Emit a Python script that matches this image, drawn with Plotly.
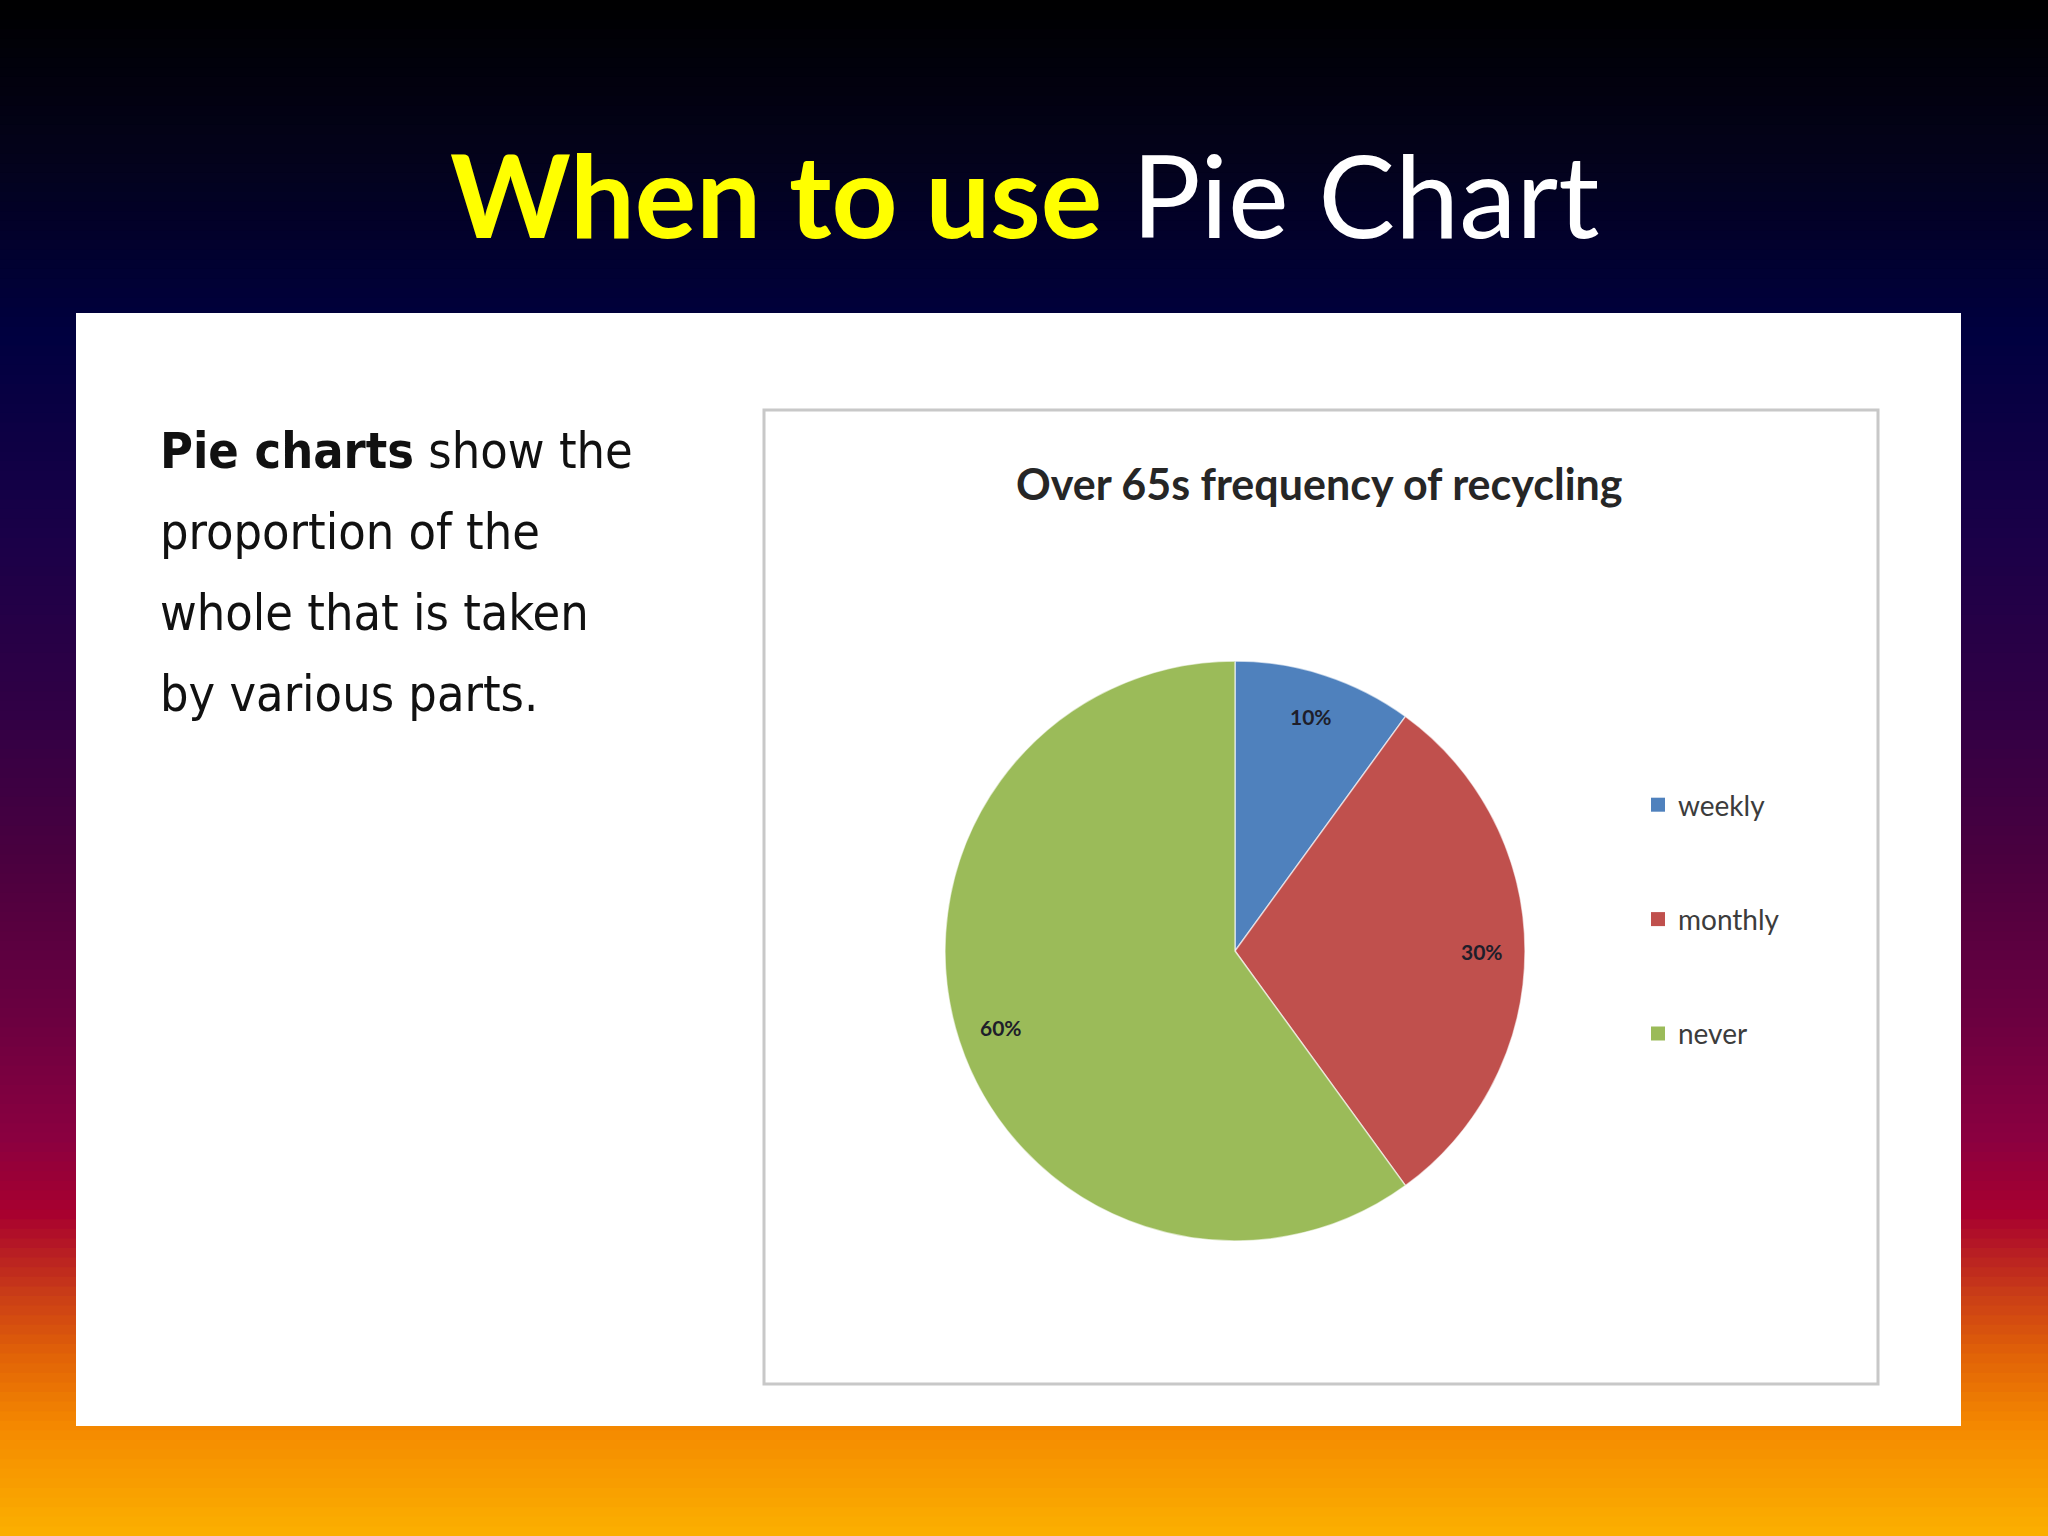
"""
スライド「When to use Pie Chart」の再現。
グラデーション背景・白パネル・説明文・円グラフを1枚の図に描く。
"""

import math
import plotly.graph_objects as go

# --- データ ---
categories = ["weekly", "monthly", "never"]
shares = [10, 30, 60]
slice_colors = ["#4F81BD", "#C0504D", "#9BBB59"]

slide_title_bold = "When to use"
slide_title_rest = "Pie Chart"
chart_title = "Over 65s frequency of recycling"
body_lines = [
    "<b>Pie charts</b> show the",
    "proportion of the",
    "whole that is taken",
    "by various parts.",
]

W, H = 2048, 1536


# --- ヘルパー関数 ---
def px_x(x):
    return x / W


def px_y(y):
    return 1 - y / H


def lerp_color(stops, t):
    """(位置, (r,g,b)) のリストから色を補間"""
    for (p0, c0), (p1, c1) in zip(stops, stops[1:]):
        if p0 <= t <= p1:
            f = (t - p0) / (p1 - p0) if p1 > p0 else 0
            r, g, b = (round(a + (b_ - a) * f) for a, b_ in zip(c0, c1))
            return f"rgb({r},{g},{b})"
    r, g, b = stops[-1][1]
    return f"rgb({r},{g},{b})"


# 背景グラデーション（上から下へ）
grad_stops = [
    (0.00, (0, 0, 0)),
    (0.10, (3, 2, 26)),
    (0.22, (0, 0, 64)),
    (0.35, (26, 0, 72)),
    (0.46, (48, 0, 69)),
    (0.56, (74, 0, 63)),
    (0.66, (106, 0, 64)),
    (0.74, (138, 0, 64)),
    (0.79, (168, 0, 47)),
    (0.84, (200, 58, 24)),
    (0.88, (224, 96, 8)),
    (0.93, (245, 138, 0)),
    (1.00, (251, 176, 0)),
]

shapes = []
n_strips = 160
for i in range(n_strips):
    t0, t1 = i / n_strips, (i + 1) / n_strips
    shapes.append(dict(
        type="rect", xref="paper", yref="paper", layer="below",
        x0=0, x1=1, y0=1 - t1 - 0.001, y1=1 - t0,
        fillcolor=lerp_color(grad_stops, (t0 + t1) / 2), line=dict(width=0),
    ))

# 白パネルとグラフ枠
shapes.append(dict(type="rect", xref="paper", yref="paper", layer="below",
                   x0=px_x(76), x1=px_x(1961), y0=px_y(1426), y1=px_y(313),
                   fillcolor="white", line=dict(width=0)))
shapes.append(dict(type="rect", xref="paper", yref="paper", layer="below",
                   x0=px_x(764), x1=px_x(1878), y0=px_y(1384), y1=px_y(410),
                   fillcolor="white", line=dict(color="#c8c8c8", width=3)))

# --- 円グラフ ---
cx, cy, rad = 1235, 951, 290

fig = go.Figure()
fig.add_trace(go.Pie(
    labels=categories, values=shares, sort=False, direction="clockwise", rotation=0,
    marker=dict(colors=slice_colors, line=dict(color="rgba(255,255,255,0.6)", width=1.5)),
    textinfo="none", hoverinfo="label+percent", showlegend=False,
    domain=dict(x=[px_x(cx - rad), px_x(cx + rad)], y=[px_y(cy + rad), px_y(cy - rad)]),
))

# 凡例（大きめの間隔をとるためダミー系列で作成）
for name, color in zip(categories, slice_colors):
    fig.add_trace(go.Scatter(
        x=[None], y=[None], mode="markers", name=name, legendgroup=name,
        marker=dict(symbol="square", size=14, color=color),
    ))

annotations = []

# スライス内のパーセント表示（値から位置を計算）
total = sum(shares)
cum = 0
for v in shares:
    mid = (cum + v / 2) / total
    cum += v
    ang = 2 * math.pi * mid
    lx = cx + 0.85 * rad * math.sin(ang)
    ly = cy - 0.85 * rad * math.cos(ang)
    annotations.append(dict(
        x=px_x(lx), y=px_y(ly), xref="paper", yref="paper", showarrow=False,
        xanchor="center", yanchor="middle",
        text=f"<b>{round(v / total * 100)}%</b>",
        font=dict(family="Lato", size=21, color="#1e1e2a"),
    ))

# タイトル類
annotations.append(dict(
    x=0.5, y=px_y(193), xref="paper", yref="paper", showarrow=False,
    xanchor="center", yanchor="middle",
    text=f'<span style="color:#ffff00"><b>{slide_title_bold}</b></span> {slide_title_rest}',
    font=dict(family="Lato", size=115, color="white"),
))
annotations.append(dict(
    x=px_x(1319), y=px_y(483), xref="paper", yref="paper", showarrow=False,
    xanchor="center", yanchor="middle",
    text=f"<b>{chart_title}</b>", font=dict(family="Lato", size=43, color="#262626"),
))
for i, line in enumerate(body_lines):
    annotations.append(dict(
        x=px_x(158), y=px_y(451 + 81 * i), xref="paper", yref="paper", showarrow=False,
        xanchor="left", yanchor="middle", text=line,
        font=dict(family="DejaVu Sans Condensed", size=50, color="#111111"),
    ))

fig.update_layout(
    width=W, height=H, margin=dict(l=0, r=0, t=0, b=0),
    paper_bgcolor="black", plot_bgcolor="rgba(0,0,0,0)",
    xaxis=dict(visible=False), yaxis=dict(visible=False),
    shapes=shapes, annotations=annotations,
    legend=dict(
        x=px_x(1638), y=px_y(780), xanchor="left", yanchor="top",
        tracegroupgap=75, bgcolor="rgba(0,0,0,0)",
        font=dict(family="Lato", size=28, color="#3c3c3c"),
    ),
)

fig.write_html(
    "out.html",
    config={"displayModeBar": False},
    post_script="document.body.style.margin='0';document.body.style.padding='0';",
)
